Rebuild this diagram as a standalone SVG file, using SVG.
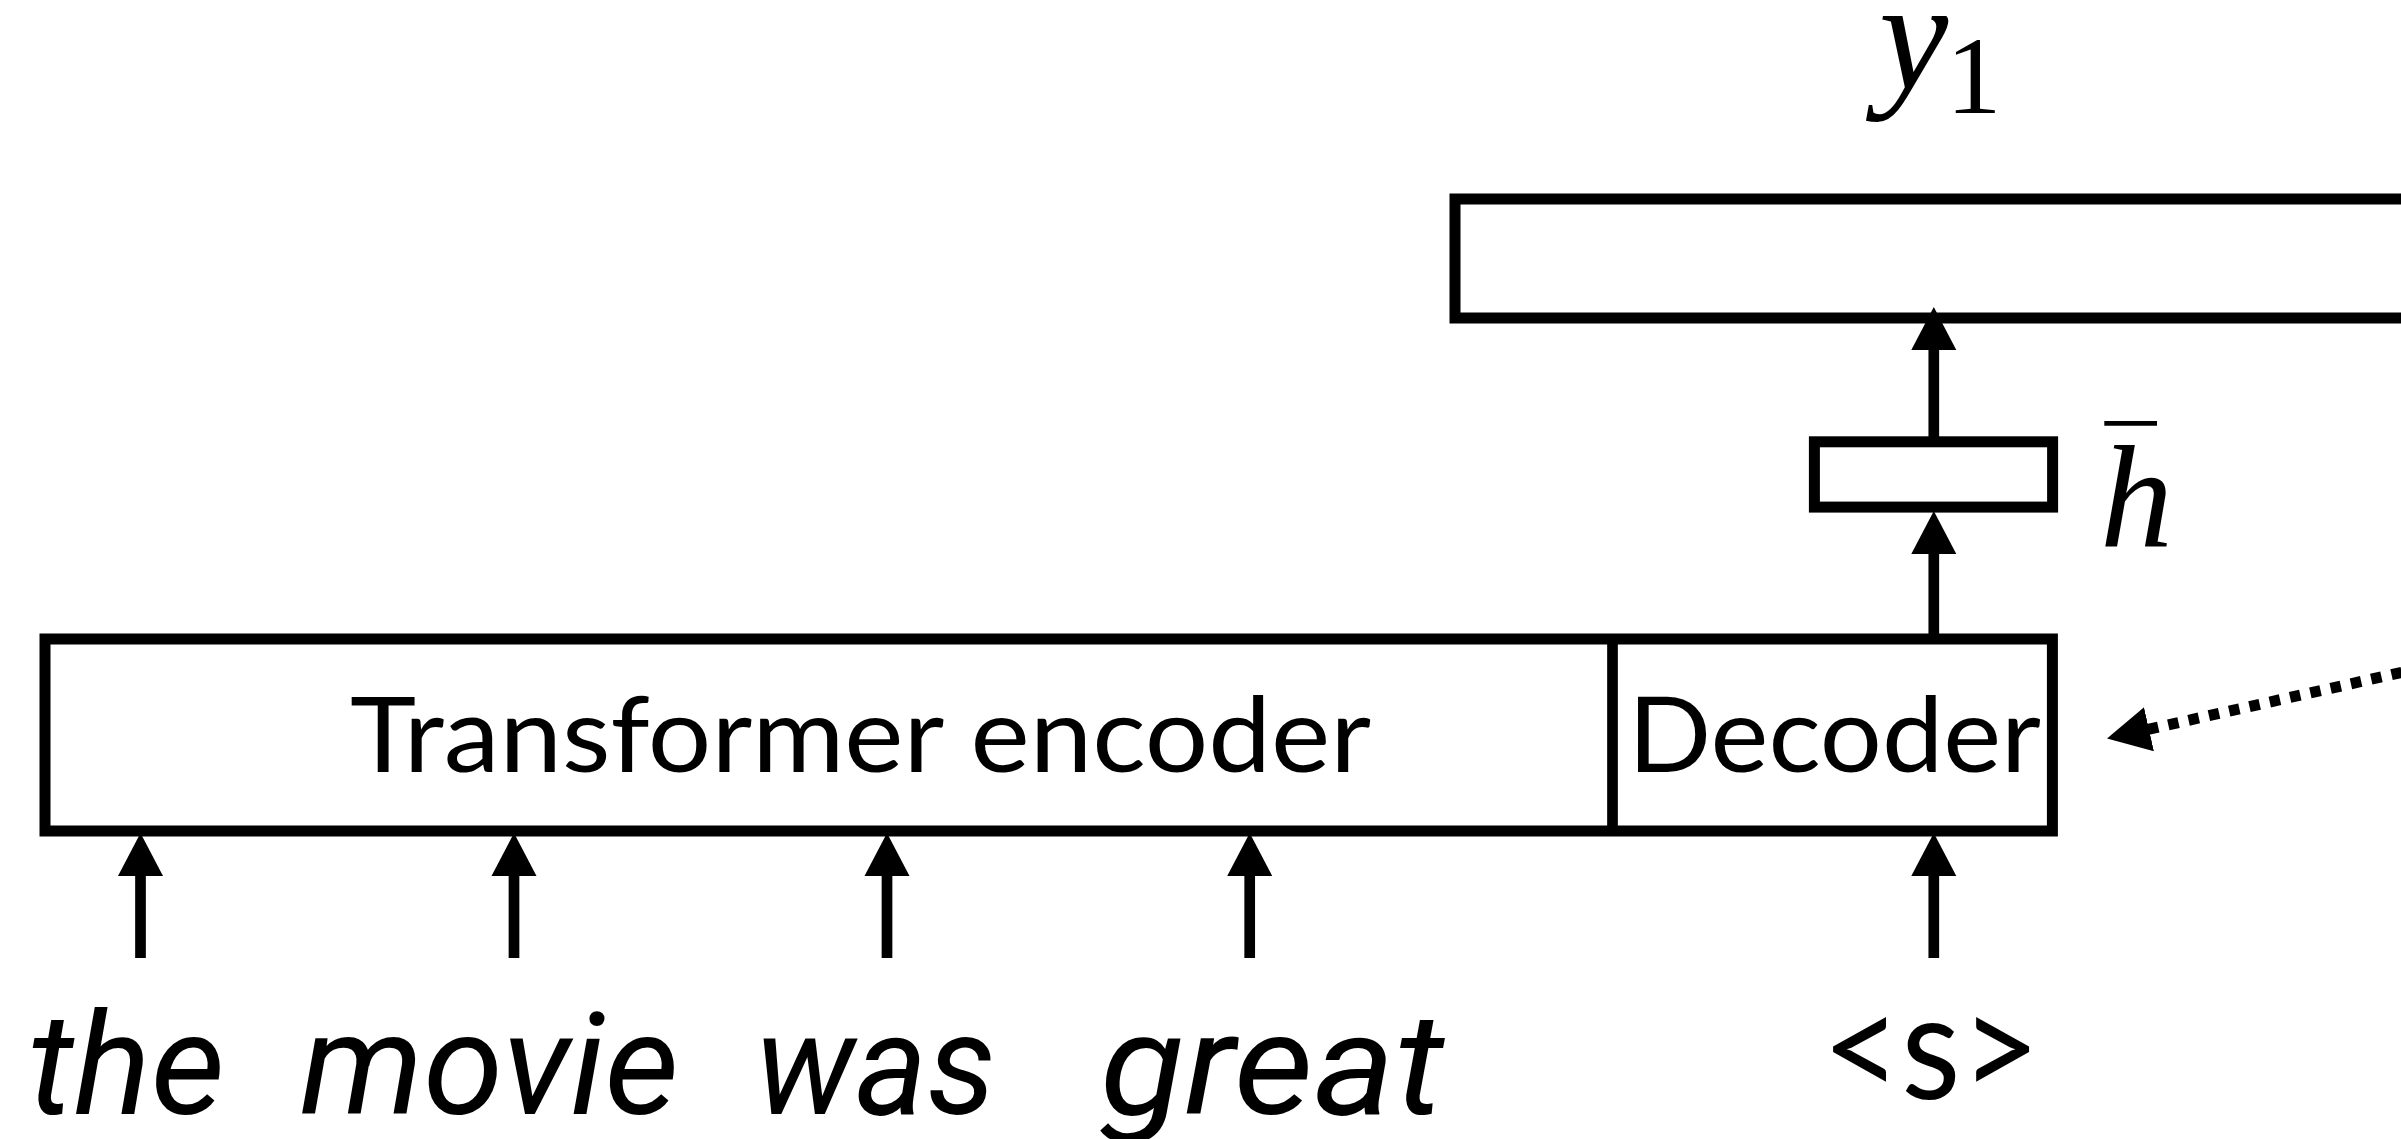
<svg xmlns="http://www.w3.org/2000/svg" width="2401" height="1139" viewBox="0 0 2401 1139">
  <defs>
    <style>
      .box { fill: none; stroke: #000; stroke-width: 11; }
      .wire { fill: none; stroke: #000; stroke-width: 10.7; }
      .dotted { fill: none; stroke: #000; stroke-width: 11; stroke-dasharray: 10.5 10.3; }
      .label { font-family: Lato, "Open Sans", "Liberation Sans", sans-serif; font-size: 105.5px; fill: #000; }
      .word { font-family: Roboto, "Noto Sans", "Liberation Sans", sans-serif; font-size: 142px; font-style: italic; fill: #000; }
      .token { font-family: Lato, "Open Sans", "Liberation Sans", sans-serif; font-size: 148px; fill: #000; }
      .math { font-family: "Liberation Serif", "DejaVu Serif", serif; font-style: italic; fill: #000; }
      .mathrm { font-family: "Liberation Serif", "DejaVu Serif", serif; fill: #000; }
    </style>
    <marker id="head" markerUnits="userSpaceOnUse" viewBox="0 -25 45 50" markerWidth="45" markerHeight="50" refX="1" refY="0" orient="auto-start-reverse">
      <path d="M0,-22.5 L43,0 L0,22.5 Z" fill="#000"/>
    </marker>
  </defs>

  <rect width="2401" height="1139" fill="#fff"/>

  <!-- output layer (continues past the right edge) -->
  <g id="output-layer">
    <rect class="box" x="1455" y="199" width="1000" height="119"/>
  </g>

  <!-- output label y_1 -->
  <g id="output-label">
    <text class="math" x="1879" y="89" font-size="156">y</text>
    <text class="mathrm" x="1946" y="113.3" font-size="111">1</text>
  </g>

  <!-- pooled hidden state -->
  <g id="hbar-box">
    <rect class="box" x="1814.4" y="441.8" width="238.2" height="65.3"/>
  </g>
  <g id="hbar-label">
    <line x1="2104.3" y1="423.3" x2="2157" y2="423.3" stroke="#000" stroke-width="4.7"/>
    <text class="math" x="2100" y="546.7" font-size="146">h</text>
  </g>

  <!-- encoder + decoder block -->
  <g id="encoder">
    <rect class="box" x="45" y="639" width="2007.4" height="192"/>
    <text class="label" x="350" y="772" textLength="1021" lengthAdjust="spacingAndGlyphs">Transformer encoder</text>
  </g>
  <g id="decoder">
    <line class="wire" x1="1612.5" y1="639" x2="1612.5" y2="831"/>
    <text class="label" x="1628" y="772" textLength="413" lengthAdjust="spacingAndGlyphs">Decoder</text>
  </g>

  <!-- input tokens -->
  <g id="input-the"><text class="word" x="28" y="1114" textLength="197" lengthAdjust="spacingAndGlyphs">the</text></g>
  <g id="input-movie"><text class="word" x="300" y="1114" textLength="379" lengthAdjust="spacingAndGlyphs">movie</text></g>
  <g id="input-was"><text class="word" x="755" y="1114" textLength="241" lengthAdjust="spacingAndGlyphs">was</text></g>
  <g id="input-great"><text class="word" x="1100" y="1114" textLength="344" lengthAdjust="spacingAndGlyphs">great</text></g>
  <g id="input-start"><text class="token" x="1822" y="1099" textLength="218" lengthAdjust="spacingAndGlyphs">&lt;s&gt;</text></g>

  <!-- connectors -->
  <g id="connectors">
    <line class="wire" x1="140.5" y1="958" x2="140.5" y2="875" marker-end="url(#head)"/>
    <line class="wire" x1="514" y1="958" x2="514" y2="875" marker-end="url(#head)"/>
    <line class="wire" x1="887" y1="958" x2="887" y2="875" marker-end="url(#head)"/>
    <line class="wire" x1="1249.7" y1="958" x2="1249.7" y2="875" marker-end="url(#head)"/>
    <line class="wire" x1="1933.8" y1="958" x2="1933.8" y2="875" marker-end="url(#head)"/>
    <line class="wire" x1="1933.8" y1="639" x2="1933.8" y2="553" marker-end="url(#head)"/>
    <line class="wire" x1="1933.8" y1="441.8" x2="1933.8" y2="349" marker-end="url(#head)"/>
    <path class="dotted" d="M2148,729.4 L2410,670.5" marker-start="url(#head)"/>
  </g>
</svg>
